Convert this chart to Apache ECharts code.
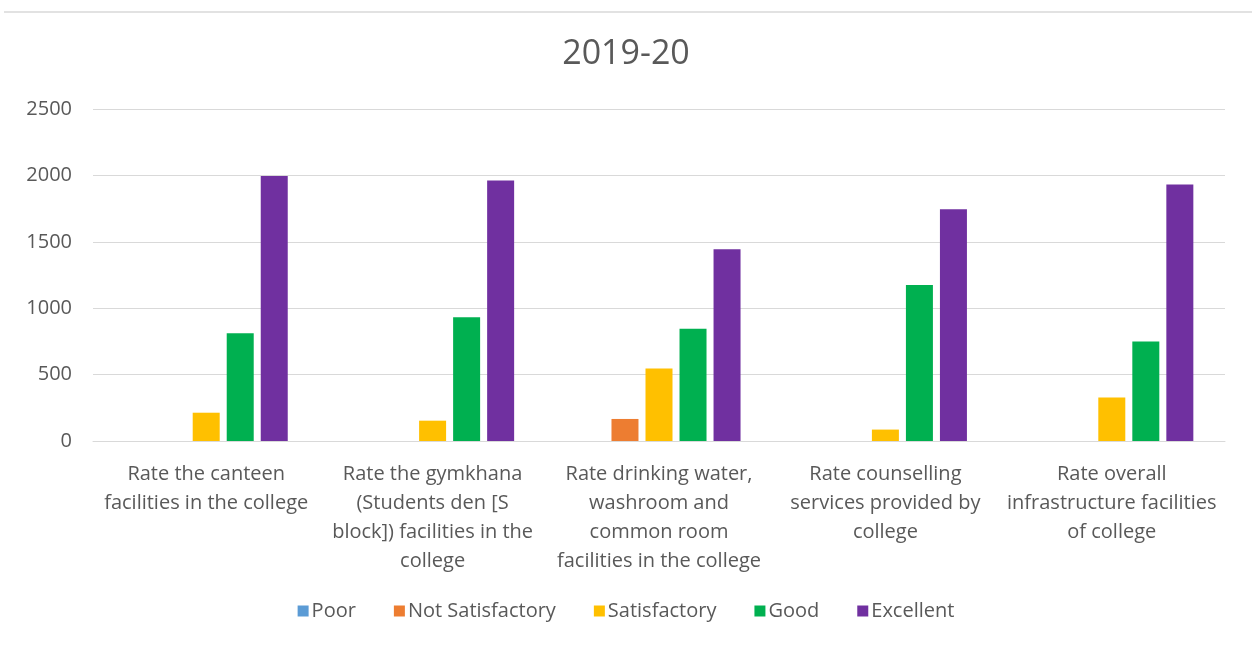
<!DOCTYPE html>
<html>
<head>
<meta charset="utf-8">
<script src="https://cdn.jsdelivr.net/npm/echarts@6/dist/echarts.min.js"></script>
<style>
  html, body { margin: 0; padding: 0; background: #fff; }
  #main { width: 1252px; height: 646px; }
</style>
</head>
<body>
<div id="main"></div>
<script>
// categories (line breaks as in the original chart)
var categories = [
    'Rate the canteen\nfacilities in the college',
    'Rate the gymkhana\n(Students den [S\nblock]) facilities in the\ncollege',
    'Rate drinking water,\nwashroom and\ncommon room\nfacilities in the college',
    'Rate counselling\nservices provided by\ncollege',
    'Rate overall\ninfrastructure facilities\nof college'
];
var poor = [0, 0, 0, 0, 0];
var notSatisfactory = [0, 0, 166, 0, 0];
var satisfactory = [213, 153, 545, 86, 327];
var good = [812, 932, 845, 1174, 750];
var excellent = [1995, 1962, 1444, 1745, 1932];
var yTicks = [0, 500, 1000, 1500, 2000, 2500];

var font = '"Open Sans", "Liberation Sans", sans-serif';
var txt = '#595959';

var chart = echarts.init(document.getElementById('main'));

function bar(name, data, color) {
    return {
        name: name,
        type: 'bar',
        data: data,
        barWidth: 27,
        barGap: '26%',
        itemStyle: { color: color }
    };
}

var option = {
    animation: false,
    backgroundColor: '#fff',
    textStyle: { fontFamily: font },
    graphic: [{
        type: 'line',
        shape: { x1: 4, y1: 12, x2: 1252, y2: 12 },
        style: { stroke: '#d9d9d9', lineWidth: 1.5 }
    }],
    title: {
        text: '2019-20',
        left: 'center',
        top: 32,
        textStyle: { fontFamily: font, fontSize: 34, fontWeight: 'normal', color: txt }
    },
    legend: {
        bottom: 20,
        left: 'center',
        itemWidth: 11,
        itemHeight: 11,
        itemGap: 38,
        icon: 'rect',
        textStyle: { fontFamily: font, fontSize: 20, color: txt, padding: [0, 0, 0, -2] },
        data: ['Poor', 'Not Satisfactory', 'Satisfactory', 'Good', 'Excellent']
    },
    grid: { left: 93, right: 27, top: 109, bottom: 205 },
    xAxis: {
        type: 'category',
        data: categories,
        axisLine: { lineStyle: { color: '#d9d9d9' } },
        axisTick: { show: false },
        axisLabel: {
            interval: 0,
            margin: 19,
            lineHeight: 29,
            fontFamily: font,
            fontSize: 20,
            color: txt
        }
    },
    yAxis: {
        type: 'value',
        min: yTicks[0],
        max: yTicks[yTicks.length - 1],
        interval: 500,
        axisLine: { show: false },
        axisTick: { show: false },
        splitLine: { lineStyle: { color: '#d9d9d9', width: 1 } },
        axisLabel: {
            margin: 21,
            fontFamily: font,
            fontSize: 20,
            color: txt,
            formatter: function (v) { return String(v); }
        }
    },
    series: [
        bar('Poor', poor, '#5b9bd5'),
        bar('Not Satisfactory', notSatisfactory, '#ed7d31'),
        bar('Satisfactory', satisfactory, '#ffc000'),
        bar('Good', good, '#00b050'),
        bar('Excellent', excellent, '#7030a0')
    ]
};

chart.setOption(option);
</script>
</body>
</html>
